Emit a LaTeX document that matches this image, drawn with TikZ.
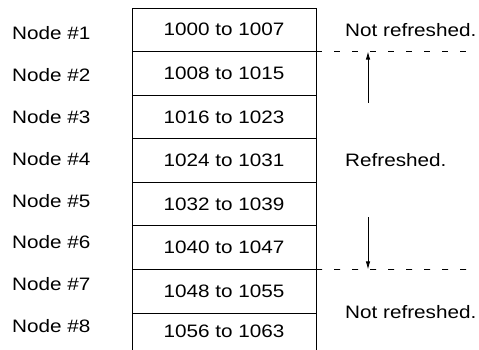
\documentclass[tikz,border=0pt]{standalone}
\usepackage{fontspec}
\setmainfont{Liberation Sans}[FakeStretch=1.15]
\usetikzlibrary{arrows.meta, positioning}

\begin{document}
\begin{tikzpicture}[x=1pt, y=-1pt,
        font=\fontsize{18pt}{20pt}\selectfont,
        cell/.style={rectangle, draw, line width=0.9pt, minimum width=184pt, minimum height=43.57pt, inner sep=0pt, outer sep=0pt},
        lbl/.style={anchor=west, inner sep=0pt},
        split/.style={line width=0.8pt, dash pattern=on 6pt off 12pt},
        arrowline/.style={-{Latex[length=8pt, width=4.5pt]}, line width=0.8pt}
    ]
        \useasboundingbox (0,0) rectangle (479,350);
        % memory rows and node labels
        \foreach \i/\a/\b in {1/1000/1007, 2/1008/1015, 3/1016/1023, 4/1024/1031, 5/1032/1039, 6/1040/1047, 7/1048/1055} {
            \node[cell] (r\i) at (224, {8+43.57*(\i-0.5)}) {\a\ to \b};
        }
        \node[cell, draw=none, minimum height=37pt] (r8) at (224, 331.5) {1056 to 1063};
        \draw[line width=0.9pt] (r8.north west) -- (r8.south west);
        \draw[line width=0.9pt] (r8.north east) -- (r8.south east);
        \foreach \i in {1,...,8} {
            \node[lbl] (n\i) at (12, {33+41.9*(\i-1)}) {Node \#\i};
        }
        % refresh range
        \node[lbl] (top) at (345, 30) {Not refreshed.};
        \node[lbl] (mid) at (345, 160) {Refreshed.};
        \node[lbl] (bot) at (345, 312) {Not refreshed.};
        \coordinate (e1) at (467, 51.57);
        \coordinate (e2) at (467, 269.41);
        \draw[split] (r1.south east) -- (e1);
        \draw[split] (r6.south east) -- (e2);
        \coordinate (u0) at (368, 103);
        \coordinate (u1) at (368, 51.57);
        \coordinate (d0) at (368, 217);
        \coordinate (d1) at (368, 269.41);
        \draw[arrowline] (u0) -- (u1);
        \draw[arrowline] (d0) -- (d1);
    \end{tikzpicture}
\end{document}
